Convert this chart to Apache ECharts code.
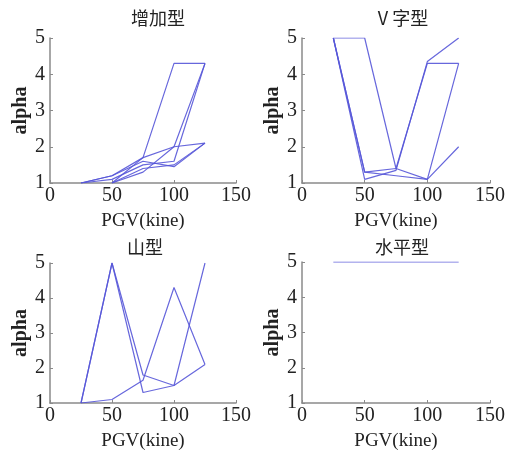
<!DOCTYPE html>
<html>
<head>
<meta charset="utf-8">
<script src="https://cdn.jsdelivr.net/npm/echarts@6/dist/echarts.min.js"></script>
<style>
  html, body { margin: 0; padding: 0; background: #fff; }
  #chart { width: 511px; height: 452px; }
</style>
</head>
<body>
<div id="chart"></div>
<script>
  // PGV (kine) sample points shared by all panels
  const pgv = [25, 50, 75, 100, 125];

  // 增加型
  const incA = [1.0, 1.2, 1.7, 4.3, 4.3];
  const incB = [1.0, 1.1, 1.5, 1.6, 4.3];
  const incC = [null, 1.0, 1.3, 2.0, 4.3];
  const incD = [null, 1.0, 1.7, 2.0, 2.1];
  const incE = [null, 1.0, 1.4, 1.5, 2.1];
  const incF = [1.0, 1.2, 1.6, 1.45, 2.1];

  // V 字型
  const vA = [5.0, 5.0, 1.4, 4.3, 4.3];
  const vB = [5.0, 1.1, 1.35, 4.35, 5.0];
  const vC = [5.0, 1.3, 1.2, 1.1, 4.3];
  const vD = [5.0, 1.3, 1.4, 1.1, 2.0];

  // 山型
  const mA = [1.0, 5.0, 1.8, 1.5, 5.0];
  const mB = [1.0, 5.0, 1.3, 1.5, 2.1];
  const mC = [1.0, 1.1, 1.65, 4.3, 2.1];

  // 水平型
  const flatA = [5.0, 5.0, 5.0, 5.0, 5.0];

  const titles = ['增加型', 'V 字型', '山型', '水平型'];
  const panels = [
    [incA, incB, incC, incD, incE, incF],
    [vA, vB, vC, vD],
    [mA, mB, mC],
    [flatA]
  ];

  const grids = [
    {left: 50, top: 38, width: 186, height: 145},
    {left: 302, top: 38, width: 188, height: 145},
    {left: 50, top: 263, width: 186, height: 146},
    {left: 302, top: 262, width: 188, height: 144}
  ];
  const titlePos = [[153, 4], [398, 4], [140, 233], [397, 233]];

  const serif = 'Liberation Serif, Times New Roman, serif';
  const axisLine = {lineStyle: {color: '#8a8a8a', width: 1.5}};
  const axisTick = {inside: true, length: 3, lineStyle: {color: '#8a8a8a'}};

  const option = {
    animation: false,
    backgroundColor: '#fff',
    title: titles.map((t, i) => ({
      text: t,
      left: titlePos[i][0],
      top: titlePos[i][1],
      textAlign: 'center',
      textStyle: {fontFamily: 'Noto Sans CJK SC', fontWeight: 'normal', fontSize: 18, color: '#222'}
    })),
    grid: grids,
    xAxis: grids.map((g, i) => ({
      type: 'value', gridIndex: i, min: 0, max: 150, interval: 50,
      name: 'PGV(kine)', nameLocation: 'middle', nameGap: 29,
      nameTextStyle: {fontFamily: serif, fontSize: 19, color: '#222'},
      axisLine: axisLine, axisTick: axisTick, splitLine: {show: false},
      axisLabel: {fontFamily: serif, fontSize: 20, color: '#222', margin: 3}
    })),
    yAxis: grids.map((g, i) => ({
      type: 'value', gridIndex: i, min: 1, max: 5, interval: 1,
      name: 'alpha', nameLocation: 'middle', nameGap: 18,
      nameTextStyle: {fontFamily: serif, fontSize: 20, fontWeight: 'bold', color: '#222'},
      axisLine: axisLine, axisTick: axisTick, splitLine: {show: false},
      axisLabel: {fontFamily: serif, fontSize: 20, color: '#222', margin: 5}
    })),
    series: []
  };

  panels.forEach((lines, i) => {
    lines.forEach(ys => {
      option.series.push({
        type: 'line', xAxisIndex: i, yAxisIndex: i,
        data: pgv.map((x, k) => [x, ys[k]]).filter(p => p[1] !== null),
        showSymbol: false, silent: true,
        lineStyle: {color: '#5656d8', width: 1.2, opacity: 0.9}
      });
    });
  });

  echarts.init(document.getElementById('chart')).setOption(option);
</script>
</body>
</html>
